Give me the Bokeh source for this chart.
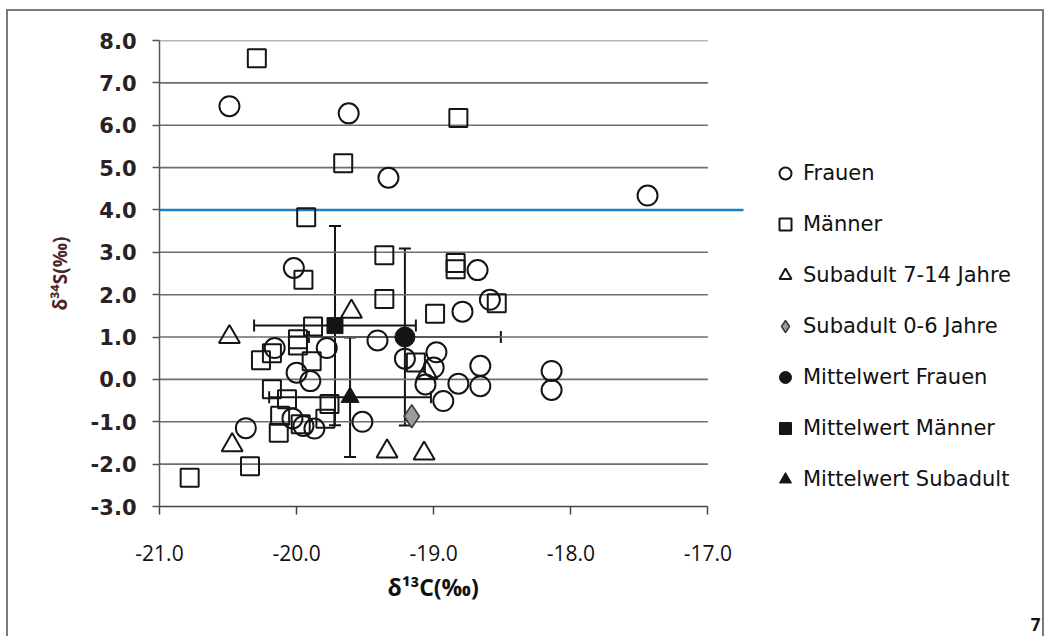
from bokeh.plotting import figure
from bokeh.models import (ColumnDataSource, Range1d, Whisker, TeeHead, Legend,
                          LegendItem, Title, FixedTicker, PrintfTickFormatter)
from bokeh.embed import file_html
from bokeh.resources import INLINE

# ---------------- data ----------------
frauen_c = [-20.49, -19.62, -19.33, -17.44, -20.02, -18.68, -18.79, -18.59, -20.16, -19.78,
            -19.41, -18.98, -19.21, -19.00, -20.00, -19.90, -19.06, -18.82, -18.66, -18.66,
            -18.14, -18.14, -18.93, -20.37, -20.03, -19.95, -19.87, -19.52]
frauen_s = [6.45, 6.28, 4.76, 4.34, 2.63, 2.58, 1.60, 1.88, 0.74, 0.74,
            0.92, 0.64, 0.49, 0.28, 0.16, -0.04, -0.12, -0.10, 0.32, -0.16,
            0.20, -0.25, -0.51, -1.15, -0.92, -1.10, -1.16, -1.00]

maenner_c = [-20.29, -19.66, -18.82, -19.93, -19.95, -19.36, -18.84, -18.84, -19.36, -18.99,
             -18.54, -19.88, -19.99, -19.99, -20.18, -20.26, -19.89, -19.13, -20.18, -20.07,
             -19.76, -20.12, -19.79, -19.97, -20.13, -20.34, -20.78]
maenner_s = [7.58, 5.10, 6.17, 3.83, 2.35, 2.93, 2.75, 2.60, 1.90, 1.55,
             1.80, 1.25, 0.95, 0.80, 0.62, 0.45, 0.43, 0.40, -0.23, -0.47,
             -0.58, -0.86, -0.93, -1.06, -1.26, -2.05, -2.32]

sub714_c = [-20.49, -19.60, -19.05, -20.47, -19.34, -19.07]
sub714_s = [1.00, 1.60, 0.15, -1.55, -1.70, -1.75]

sub06_c = [-19.16]
sub06_s = [-0.87]

mean_groups = ["Frauen", "Männer", "Subadult"]
mean_c = [-19.21, -19.72, -19.61]
mean_s = [1.00, 1.27, -0.42]
sd_c = [0.70, 0.59, 0.59]
sd_s = [2.09, 2.35, 1.41]

threshold_s = 4.0

x_ticks = [-21, -20, -19, -18, -17]
y_ticks = [-3, -2, -1, 0, 1, 2, 3, 4, 5, 6, 7, 8]

legend_labels = ["Frauen", "Männer", "Subadult 7-14 Jahre", "Subadult 0-6 Jahre",
                 "Mittelwert Frauen", "Mittelwert Männer", "Mittelwert Subadult"]
x_title = "δ¹³C(‰)"
y_title = "δ³⁴S(‰)"
page_no = "7"

# layout settings (plot area runs on to the right edge to hold the legend)
X_VIEW_END = -14.53      # right edge of the drawing area
BLUE_END = -16.74        # where the blue 4.0 line stops

# ---------------- figure ----------------
p = figure(width=1038, height=627,
           x_range=Range1d(x_ticks[0], X_VIEW_END), y_range=Range1d(y_ticks[0], y_ticks[-1]),
           output_backend="svg", toolbar_location=None,
           min_border_left=151, min_border_right=0,
           min_border_top=29, min_border_bottom=132)
p.outline_line_color = None
p.background_fill_color = "white"
p.border_fill_color = "white"
p.xgrid.visible = False
p.ygrid.visible = False
p.styles = {"margin-left": "6px", "margin-top": "9px",
            "border-top": "2px solid #7a7a7a",
            "border-left": "2px solid #7a7a7a",
            "border-right": "2px solid #7a7a7a"}

# horizontal gridlines, limited to the axis extent
grid_y = [t for t in y_ticks if t > y_ticks[0]]
p.segment(x0=x_ticks[0], x1=x_ticks[-1], y0=grid_y, y1=grid_y,
          line_color="#6e6e6e", line_width=1.6)

# blue reference line at 4.0
p.segment(x0=[x_ticks[0]], x1=[BLUE_END], y0=[threshold_s], y1=[threshold_s],
          line_color="#1b7fc3", line_width=2.5)

ink = "#151515"
r_f = p.scatter(frauen_c, frauen_s, marker="circle", size=20,
                fill_alpha=0, line_color=ink, line_width=2)
r_m = p.scatter(maenner_c, maenner_s, marker="square", size=18,
                fill_alpha=0, line_color=ink, line_width=2)
r_t = p.scatter(sub714_c, sub714_s, marker="triangle", size=21,
                fill_alpha=0, line_color=ink, line_width=2)
r_d = p.scatter(sub06_c, sub06_s, marker="diamond", size=23,
                fill_color="#9b9b9b", line_color="#3a3a3a", line_width=1.5)

src = ColumnDataSource(dict(
    x=mean_c, y=mean_s,
    x_lo=[m - s for m, s in zip(mean_c, sd_c)], x_hi=[m + s for m, s in zip(mean_c, sd_c)],
    y_lo=[m - s for m, s in zip(mean_s, sd_s)], y_hi=[m + s for m, s in zip(mean_s, sd_s)],
))
for dim, base, lo, hi in (("height", "x", "y_lo", "y_hi"), ("width", "y", "x_lo", "x_hi")):
    w = Whisker(source=src, base=base, lower=lo, upper=hi, dimension=dim,
                line_color=ink, line_width=2,
                upper_head=TeeHead(size=12, line_color=ink, line_width=2),
                lower_head=TeeHead(size=12, line_color=ink, line_width=2))
    p.add_layout(w)

r_mf = p.scatter(mean_c[0:1], mean_s[0:1], marker="circle", size=20,
                 fill_color=ink, line_color=ink)
r_mm = p.scatter(mean_c[1:2], mean_s[1:2], marker="square", size=16,
                 fill_color=ink, line_color=ink)
r_ms = p.scatter(mean_c[2:3], mean_s[2:3], marker="triangle", size=18,
                 fill_color=ink, line_color=ink)

# ---------------- axes ----------------
xa = p.xaxis[0]
xa.ticker = FixedTicker(ticks=x_ticks)
xa.bounds = (x_ticks[0], x_ticks[-1])
xa.formatter = PrintfTickFormatter(format="%.1f")
xa.major_label_text_font = "Open Sans"
xa.major_label_text_font_size = "21px"
xa.major_label_text_color = "#111111"
xa.major_label_standoff = 30
xa.major_tick_out = 8
xa.major_tick_in = 0
xa.minor_tick_out = 0
xa.minor_tick_in = 0
xa.axis_line_color = "#444444"
xa.axis_line_width = 1.5
xa.major_tick_line_color = "#444444"
xa.major_tick_line_width = 1.5

ya = p.yaxis[0]
ya.ticker = FixedTicker(ticks=y_ticks)
ya.formatter = PrintfTickFormatter(format="%.1f")
ya.major_label_text_font = "DejaVu Sans"
ya.major_label_text_font_style = "bold"
ya.major_label_text_font_size = "21px"
ya.major_label_text_color = "#2a2222"
ya.major_label_standoff = 16
ya.major_tick_out = 7
ya.major_tick_in = 0
ya.minor_tick_out = 0
ya.minor_tick_in = 0
ya.axis_line_color = "#555555"
ya.axis_line_width = 1.5
ya.major_tick_line_color = "#555555"
ya.major_tick_line_width = 1.5
ya.axis_label = y_title
ya.axis_label_text_font = "Open Sans"
ya.axis_label_text_font_style = "bold"
ya.axis_label_text_font_size = "19px"
ya.axis_label_text_color = "#4a2626"
ya.axis_label_standoff = 15

# x-axis title (under the -21..-17 axis) and page number, as titles below
p.add_layout(Title(text=x_title, align="left", offset=228, standoff=10,
                   text_font="Open Sans", text_font_style="bold",
                   text_font_size="23px", text_color="#111111"), "below")
p.add_layout(Title(text=page_no, align="right", offset=6, standoff=16,
                   text_font="Open Sans", text_font_style="bold",
                   text_font_size="17px", text_color="#111111"), "below")

# ---------------- legend ----------------
renderers = [r_f, r_m, r_t, r_d, r_mf, r_mm, r_ms]
legend = Legend(items=[LegendItem(label=l, renderers=[r]) for l, r in zip(legend_labels, renderers)],
                location=(611, 12), orientation="vertical",
                glyph_width=30, glyph_height=30, label_height=30, spacing=21,
                padding=0, margin=0, label_standoff=3,
                border_line_alpha=0, background_fill_alpha=0,
                label_text_font="DejaVu Sans", label_text_font_size="21px",
                label_text_color="#111111")
p.add_layout(legend)

open("out.html", "w").write(file_html(p, INLINE))
